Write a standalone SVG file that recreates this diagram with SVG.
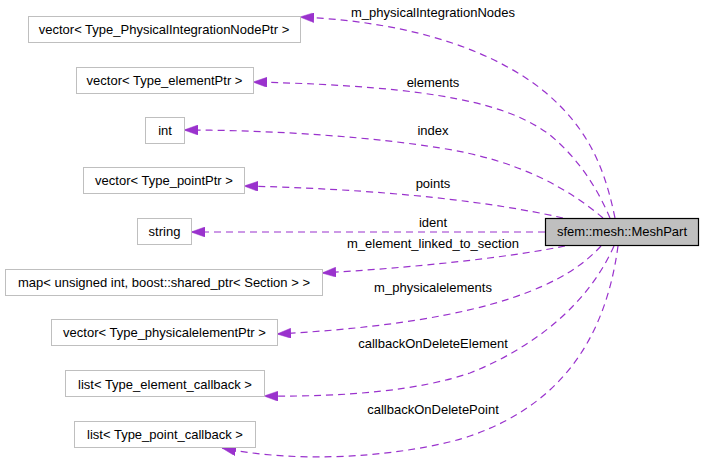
<svg xmlns="http://www.w3.org/2000/svg" width="704" height="473" viewBox="0 0 704 473">
<style>
.n rect{fill:#fff;stroke:#bfbfbf;stroke-width:1}
.m rect{fill:#bfbfbf;stroke:#000;stroke-width:1.2}
text{font-family:"Liberation Sans",Arial,sans-serif;font-size:13px;fill:#000}
.n text,.m text{text-anchor:middle}
.e path{fill:none;stroke:#9a32cd;stroke-width:1.2;stroke-dasharray:7,5;marker-end:url(#ah)}
.l text{text-anchor:middle}
</style>
<defs>
<marker id="ah" viewBox="0 0 14 10" refX="14" refY="5" markerWidth="14" markerHeight="10" markerUnits="userSpaceOnUse" orient="auto">
<path d="M0,0 L14,5 L0,10 z" fill="#9a32cd" stroke="#9a32cd" stroke-width="0.5"/>
</marker>
</defs>
<g id="connectors" class="e">
<path d="M615,218 C605,170 590,130 545,92 C500,55 420,22 300,17"/>
<path d="M610,218 C598,190 580,160 550,135 C510,105 440,86 253,82"/>
<path d="M603,218 C570,190 520,160 440,148 C380,138 280,130 184,130"/>
<path d="M563,218 C520,208 420,190 244,186"/>
<path d="M545,232 L191,232"/>
<path d="M565,246 C520,255 440,266 322,273"/>
<path d="M601,246 C570,280 500,322 277,334"/>
<path d="M614,246 C590,300 540,345 470,373 C420,390 350,397 264,396"/>
<path d="M618,246 C608,320 575,400 470,436 C430,450 320,468 222,448"/>
</g>
<g id="labels" class="l">
<text x="433" y="17">m_physicalIntegrationNodes</text>
<text x="433" y="87">elements</text>
<text x="433" y="135">index</text>
<text x="433" y="188">points</text>
<text x="433" y="227">ident</text>
<text x="433" y="248">m_element_linked_to_section</text>
<text x="433" y="292">m_physicalelements</text>
<text x="433" y="348">callbackOnDeleteElement</text>
<text x="433" y="414">callbackOnDeletePoint</text>
</g>
<g id="meshpart" class="m"><rect x="545.5" y="218.5" width="153" height="27"/><text x="622" y="236">sfem::mesh::MeshPart</text></g>
<g id="physintnodes" class="n"><rect x="28.5" y="16.5" width="272" height="26"/><text x="164" y="34">vector&lt; Type_PhysicalIntegrationNodePtr &gt;</text></g>
<g id="elementptr" class="n"><rect x="76.5" y="67.5" width="177" height="26"/><text x="164.5" y="85">vector&lt; Type_elementPtr &gt;</text></g>
<g id="int" class="n"><rect x="145.5" y="117.5" width="39" height="26"/><text x="165" y="135">int</text></g>
<g id="pointptr" class="n"><rect x="83.5" y="167.5" width="161" height="26"/><text x="164" y="185">vector&lt; Type_pointPtr &gt;</text></g>
<g id="string" class="n"><rect x="137.5" y="218.5" width="54" height="26"/><text x="164.5" y="236">string</text></g>
<g id="map" class="n"><rect x="5.5" y="269.5" width="317" height="26"/><text x="164" y="287">map&lt; unsigned int, boost::shared_ptr&lt; Section &gt; &gt;</text></g>
<g id="physelementptr" class="n"><rect x="51.5" y="319.5" width="226" height="26"/><text x="164.5" y="337">vector&lt; Type_physicalelementPtr &gt;</text></g>
<g id="elementcallback" class="n"><rect x="65.5" y="370.5" width="199" height="26"/><text x="165" y="388.5">list&lt; Type_element_callback &gt;</text></g>
<g id="pointcallback" class="n"><rect x="74.5" y="421.5" width="181" height="26"/><text x="165" y="439">list&lt; Type_point_callback &gt;</text></g>
</svg>
